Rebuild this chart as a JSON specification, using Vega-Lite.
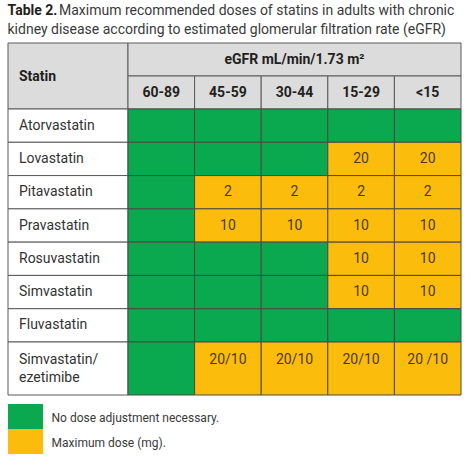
{
  "$schema": "https://vega.github.io/schema/vega-lite/v6.json",
  "background": "white",
  "padding": {"left": 7, "top": 3, "right": 5, "bottom": 0},
  "title": {
    "text": "Table 2.",
    "subtitle": ["\u200b\u00a0\u00a0\u00a0\u00a0\u00a0\u00a0\u00a0\u00a0\u00a0\u00a0\u00a0\u00a0\u00a0\u00a0\u2009Maximum recommended doses of statins in adults with chronic", "kidney disease according to estimated glomerular filtration rate (eGFR)"],
    "anchor": "start",
    "font": "Roboto",
    "fontSize": 14,
    "fontWeight": "bold",
    "color": "#231f20",
    "subtitleFont": "Roboto",
    "subtitleFontSize": 14,
    "subtitleColor": "#3a3a3a",
    "subtitlePadding": -14,
    "subtitleLineHeight": 19,
    "offset": 6
  },
  "config": {
    "view": {"stroke": null},
    "font": "Roboto",
    "text": {"font": "Roboto"}
  },
  "datasets": {
    "cells": [
      {"statin": "Atorvastatin", "egfr": "60-89", "dose": "", "status": "No dose adjustment necessary."},
      {"statin": "Atorvastatin", "egfr": "45-59", "dose": "", "status": "No dose adjustment necessary."},
      {"statin": "Atorvastatin", "egfr": "30-44", "dose": "", "status": "No dose adjustment necessary."},
      {"statin": "Atorvastatin", "egfr": "15-29", "dose": "", "status": "No dose adjustment necessary."},
      {"statin": "Atorvastatin", "egfr": "<15", "dose": "", "status": "No dose adjustment necessary."},
      {"statin": "Lovastatin", "egfr": "60-89", "dose": "", "status": "No dose adjustment necessary."},
      {"statin": "Lovastatin", "egfr": "45-59", "dose": "", "status": "No dose adjustment necessary."},
      {"statin": "Lovastatin", "egfr": "30-44", "dose": "", "status": "No dose adjustment necessary."},
      {"statin": "Lovastatin", "egfr": "15-29", "dose": "20", "status": "Maximum dose (mg)."},
      {"statin": "Lovastatin", "egfr": "<15", "dose": "20", "status": "Maximum dose (mg)."},
      {"statin": "Pitavastatin", "egfr": "60-89", "dose": "", "status": "No dose adjustment necessary."},
      {"statin": "Pitavastatin", "egfr": "45-59", "dose": "2", "status": "Maximum dose (mg)."},
      {"statin": "Pitavastatin", "egfr": "30-44", "dose": "2", "status": "Maximum dose (mg)."},
      {"statin": "Pitavastatin", "egfr": "15-29", "dose": "2", "status": "Maximum dose (mg)."},
      {"statin": "Pitavastatin", "egfr": "<15", "dose": "2", "status": "Maximum dose (mg)."},
      {"statin": "Pravastatin", "egfr": "60-89", "dose": "", "status": "No dose adjustment necessary."},
      {"statin": "Pravastatin", "egfr": "45-59", "dose": "10", "status": "Maximum dose (mg)."},
      {"statin": "Pravastatin", "egfr": "30-44", "dose": "10", "status": "Maximum dose (mg)."},
      {"statin": "Pravastatin", "egfr": "15-29", "dose": "10", "status": "Maximum dose (mg)."},
      {"statin": "Pravastatin", "egfr": "<15", "dose": "10", "status": "Maximum dose (mg)."},
      {"statin": "Rosuvastatin", "egfr": "60-89", "dose": "", "status": "No dose adjustment necessary."},
      {"statin": "Rosuvastatin", "egfr": "45-59", "dose": "", "status": "No dose adjustment necessary."},
      {"statin": "Rosuvastatin", "egfr": "30-44", "dose": "", "status": "No dose adjustment necessary."},
      {"statin": "Rosuvastatin", "egfr": "15-29", "dose": "10", "status": "Maximum dose (mg)."},
      {"statin": "Rosuvastatin", "egfr": "<15", "dose": "10", "status": "Maximum dose (mg)."},
      {"statin": "Simvastatin", "egfr": "60-89", "dose": "", "status": "No dose adjustment necessary."},
      {"statin": "Simvastatin", "egfr": "45-59", "dose": "", "status": "No dose adjustment necessary."},
      {"statin": "Simvastatin", "egfr": "30-44", "dose": "", "status": "No dose adjustment necessary."},
      {"statin": "Simvastatin", "egfr": "15-29", "dose": "10", "status": "Maximum dose (mg)."},
      {"statin": "Simvastatin", "egfr": "<15", "dose": "10", "status": "Maximum dose (mg)."},
      {"statin": "Fluvastatin", "egfr": "60-89", "dose": "", "status": "No dose adjustment necessary."},
      {"statin": "Fluvastatin", "egfr": "45-59", "dose": "", "status": "No dose adjustment necessary."},
      {"statin": "Fluvastatin", "egfr": "30-44", "dose": "", "status": "No dose adjustment necessary."},
      {"statin": "Fluvastatin", "egfr": "15-29", "dose": "", "status": "No dose adjustment necessary."},
      {"statin": "Fluvastatin", "egfr": "<15", "dose": "", "status": "No dose adjustment necessary."},
      {"statin": "Simvastatin/\nezetimibe", "egfr": "60-89", "dose": "", "status": "No dose adjustment necessary."},
      {"statin": "Simvastatin/\nezetimibe", "egfr": "45-59", "dose": "20/10", "status": "Maximum dose (mg)."},
      {"statin": "Simvastatin/\nezetimibe", "egfr": "30-44", "dose": "20/10", "status": "Maximum dose (mg)."},
      {"statin": "Simvastatin/\nezetimibe", "egfr": "15-29", "dose": "20/10", "status": "Maximum dose (mg)."},
      {"statin": "Simvastatin/\nezetimibe", "egfr": "<15", "dose": "20 /10", "status": "Maximum dose (mg)."}
    ]
  },
  "spacing": 8,
  "vconcat": [
    {
      "columns": 2,
      "spacing": 0,
      "bounds": "flush",
      "resolve": {"scale": {"x": "independent", "y": "independent"}},
      "concat": [
        {
          "width": 120,
          "height": 66,
          "data": {"values": [{"header": "Statin"}]},
          "layer": [
            {"mark": {"type": "rect", "fill": "#dcdcdc", "stroke": "#5a5a5a", "strokeWidth": 1}, "encoding": {}},
            {"mark": {"type": "text", "fontSize": 14, "fontWeight": "bold", "color": "#231f20", "align": "left", "dx": -49, "dy": 1},
             "encoding": {"text": {"field": "header"}}}
          ]
        },
        {
          "width": 333,
          "height": 66,
          "layer": [
            {
              "data": {"values": [{"band": "span", "label": "eGFR mL/min/1.73 m\u00b2"}]},
              "layer": [
                {"mark": {"type": "rect", "fill": "#dcdcdc", "stroke": "#5a5a5a", "strokeWidth": 1},
                 "encoding": {"y": {"field": "band", "type": "nominal", "scale": {"domain": ["span", "cols"], "paddingInner": 0, "paddingOuter": 0}, "axis": null}}},
                {"mark": {"type": "text", "fontSize": 14, "fontWeight": "bold", "color": "#231f20"},
                 "encoding": {"y": {"field": "band", "type": "nominal", "axis": null}, "text": {"field": "label"}}}
              ]
            },
            {
              "data": {"name": "cells"},
              "transform": [{"filter": "datum.statin == 'Atorvastatin'"}],
              "layer": [
                {"mark": {"type": "rect", "fill": "#dcdcdc", "stroke": "#5a5a5a", "strokeWidth": 1},
                 "encoding": {
                   "x": {"field": "egfr", "type": "nominal", "scale": {"domain": ["60-89", "45-59", "30-44", "15-29", "<15"], "paddingInner": 0, "paddingOuter": 0}, "axis": null},
                   "y": {"datum": "cols", "type": "nominal", "axis": null}}},
                {"mark": {"type": "text", "fontSize": 14, "fontWeight": "bold", "color": "#231f20"},
                 "encoding": {
                   "x": {"field": "egfr", "type": "nominal", "axis": null},
                   "y": {"datum": "cols", "type": "nominal", "axis": null},
                   "text": {"field": "egfr"}}}
              ]
            }
          ]
        },
        {
          "width": 120,
          "height": 233,
          "data": {"name": "cells"},
          "transform": [{"filter": "datum.egfr == '60-89' && indexof(datum.statin, 'ezetimibe') < 0"}],
          "layer": [
            {"mark": {"type": "rect", "fill": "white", "stroke": "#5a5a5a", "strokeWidth": 1},
             "encoding": {"y": {"field": "statin", "type": "nominal", "scale": {"domain": ["Atorvastatin", "Lovastatin", "Pitavastatin", "Pravastatin", "Rosuvastatin", "Simvastatin", "Fluvastatin"], "paddingInner": 0, "paddingOuter": 0}, "axis": null}}},
            {"mark": {"type": "text", "fontSize": 14, "color": "#333333", "align": "left", "dx": -49},
             "encoding": {"y": {"field": "statin", "type": "nominal", "axis": null}, "text": {"field": "statin"}}}
          ]
        },
        {
          "width": 333,
          "height": 233,
          "data": {"name": "cells"},
          "transform": [{"filter": "indexof(datum.statin, 'ezetimibe') < 0"}],
          "layer": [
            {"mark": {"type": "rect", "stroke": "#4a4a40", "strokeWidth": 1},
             "encoding": {
               "x": {"field": "egfr", "type": "nominal", "scale": {"domain": ["60-89", "45-59", "30-44", "15-29", "<15"], "paddingInner": 0, "paddingOuter": 0}, "axis": null},
               "y": {"field": "statin", "type": "nominal", "scale": {"domain": ["Atorvastatin", "Lovastatin", "Pitavastatin", "Pravastatin", "Rosuvastatin", "Simvastatin", "Fluvastatin"], "paddingInner": 0, "paddingOuter": 0}, "axis": null},
               "color": {"field": "status", "type": "nominal", "scale": {"domain": ["No dose adjustment necessary.", "Maximum dose (mg)."], "range": ["#0aa84f", "#fcbc0c"]}, "legend": null}}},
            {"mark": {"type": "text", "fontSize": 14, "color": "#4a3a10"},
             "encoding": {
               "x": {"field": "egfr", "type": "nominal", "axis": null},
               "y": {"field": "statin", "type": "nominal", "axis": null},
               "text": {"field": "dose"}}}
          ]
        },
        {
          "width": 120,
          "height": 53,
          "data": {"name": "cells"},
          "transform": [{"filter": "datum.egfr == '60-89' && indexof(datum.statin, 'ezetimibe') >= 0"}],
          "layer": [
            {"mark": {"type": "rect", "fill": "white", "stroke": "#5a5a5a", "strokeWidth": 1}, "encoding": {}},
            {"mark": {"type": "text", "fontSize": 14, "color": "#333333", "align": "left", "dx": -49, "dy": -9, "lineBreak": "\n", "lineHeight": 18},
             "encoding": {"text": {"field": "statin"}}}
          ]
        },
        {
          "width": 333,
          "height": 53,
          "data": {"name": "cells"},
          "transform": [{"filter": "indexof(datum.statin, 'ezetimibe') >= 0"}],
          "layer": [
            {"mark": {"type": "rect", "stroke": "#4a4a40", "strokeWidth": 1},
             "encoding": {
               "x": {"field": "egfr", "type": "nominal", "scale": {"domain": ["60-89", "45-59", "30-44", "15-29", "<15"], "paddingInner": 0, "paddingOuter": 0}, "axis": null},
               "color": {"field": "status", "type": "nominal", "scale": {"domain": ["No dose adjustment necessary.", "Maximum dose (mg)."], "range": ["#0aa84f", "#fcbc0c"]}, "legend": null}}},
            {"mark": {"type": "text", "fontSize": 14, "color": "#4a3a10", "dy": -9},
             "encoding": {
               "x": {"field": "egfr", "type": "nominal", "axis": null},
               "text": {"field": "dose"}}}
          ]
        }
      ]
    },
    {
      "spacing": 8,
      "bounds": "flush",
      "resolve": {"scale": {"y": "independent"}},
      "hconcat": [
        {
          "width": 35,
          "height": 50,
          "data": {"name": "cells"},
          "transform": [{"aggregate": [{"op": "count", "as": "n"}], "groupby": ["status"]}],
          "mark": {"type": "rect"},
          "encoding": {
            "y": {"field": "status", "type": "nominal", "scale": {"domain": ["No dose adjustment necessary.", "Maximum dose (mg)."], "paddingInner": 0, "paddingOuter": 0}, "axis": null},
            "color": {"field": "status", "type": "nominal", "scale": {"domain": ["No dose adjustment necessary.", "Maximum dose (mg)."], "range": ["#0aa84f", "#fcbc0c"]}, "legend": null}
          }
        },
        {
          "width": 1,
          "height": 50,
          "data": {"name": "cells"},
          "transform": [{"aggregate": [{"op": "count", "as": "n"}], "groupby": ["status"]}],
          "mark": {"type": "text", "fontSize": 12, "color": "#3a3a3a", "align": "left", "dy": 1},
          "encoding": {
            "y": {"field": "status", "type": "nominal", "scale": {"domain": ["No dose adjustment necessary.", "Maximum dose (mg)."], "paddingInner": 0, "paddingOuter": 0}, "axis": null},
            "text": {"field": "status"}
          }
        }
      ]
    }
  ]
}
